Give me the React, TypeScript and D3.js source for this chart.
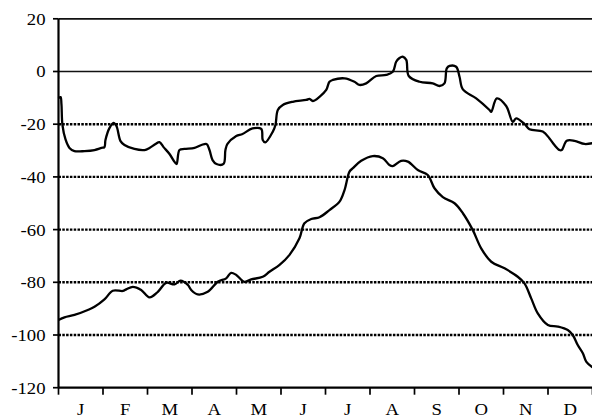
import React from "react";
import * as d3 from "d3";

const months = ["J", "F", "M", "A", "M", "J", "J", "A", "S", "O", "N", "D"];
const yTicks = [20, 0, -20, -40, -60, -80, -100, -120];
const dottedLevels = [-20, -40, -60, -80, -100];
const solidLevels = [20, 0];

const upperDays = [0, 1.4, 2, 2.7, 4.8, 7.5, 10.9, 17.8, 24.6, 29.4, 31.4, 32.1, 34.9, 37.6, 39.6, 42.4, 45.1, 51.9, 58.8, 62.2, 66.3, 69, 71.8, 75.9, 79.3, 80.7, 82.7, 86.1, 93, 97.7, 101.2, 103.2, 105.3, 108, 112.8, 114.1, 115.5, 121.5, 125.8, 132.6, 138.6, 139.6, 141.3, 146.5, 148.3, 149.9, 153.3, 160.1, 169.3, 171.6, 173.8, 178.4, 183, 185.2, 187.5, 195.5, 202.3, 205.7, 210.3, 217.2, 224, 228.5, 230.8, 233.1, 235.3, 237.7, 239.4, 246.8, 255.8, 260.4, 263.8, 265.4, 267.3, 271.8, 274.1, 276.4, 285.5, 294.6, 295.8, 299.6, 306, 310.5, 312.8, 318.5, 321.9, 331, 335.6, 339, 342.4, 344, 347.4, 352.7, 359.5, 365];
const upperValues = [-10.1, -9.7, -12.3, -20.3, -25.8, -29.0, -30.2, -30.2, -29.8, -29.0, -28.7, -26, -21.4, -19.5, -20.7, -26.4, -27.9, -29.4, -29.8, -29, -27.5, -26.8, -28.7, -31.3, -34.3, -35.1, -29.8, -29.4, -29, -27.9, -27.5, -29.8, -33.6, -35.1, -35.1, -29.8, -27.5, -24.5, -23.7, -21.6, -21.8, -26, -26.9, -22.8, -20.3, -14.6, -12.7, -11.5, -10.8, -10.4, -11.2, -9.6, -7.0, -3.9, -3.2, -2.6, -3.9, -5.1, -4.5, -1.7, -1.3, -0.1, 3.7, 5.1, 5.6, 4.4, -1.7, -3.9, -4.5, -5.5, -4.5, 1.2, 2.1, 1.8, -2, -6.8, -10.2, -14.6, -15.3, -10.2, -13.1, -19.1, -17.8, -19.9, -21.9, -22.8, -25.4, -27.9, -29.8, -29.8, -26.3, -26.3, -27.5, -27.2];

const lowerDays = [0, 4.1, 10.9, 20, 24.6, 31.4, 37.1, 44, 46.3, 50.8, 56.5, 62.2, 67.9, 73.6, 79.3, 83.4, 88.4, 90.7, 95.2, 102, 108.9, 114.6, 118, 121.5, 127.1, 131.7, 139.6, 144.2, 151.1, 157.9, 164.7, 168.1, 172.7, 178.4, 185.2, 192.1, 195.5, 198.9, 201.2, 206.9, 214.8, 221.7, 226.2, 228.5, 234.2, 238.8, 245.6, 252.4, 257, 262.7, 270.7, 276.4, 283.2, 288.9, 295.8, 304.9, 313.9, 318.5, 323.1, 327.6, 334.5, 341.3, 348.1, 351.5, 354.9, 358.4, 360.7, 365];
const lowerValues = [-94.3, -93.3, -92.4, -90.5, -89.3, -86.5, -83.2, -83.3, -82.7, -81.7, -82.9, -85.7, -83.6, -80.2, -80.8, -79.4, -81, -82.9, -84.6, -83.6, -79.8, -78.5, -76.4, -77.2, -79.8, -78.9, -77.9, -76, -73.4, -69.6, -63.3, -57.6, -56, -55.3, -52.6, -49.4, -45, -38, -36.7, -33.9, -32.1, -32.9, -35.5, -35.9, -33.9, -34.2, -37.4, -39.3, -44.3, -47.7, -50, -53.8, -60.2, -67.1, -72.2, -74.7, -77.9, -80.4, -86.1, -91.8, -96.2, -96.8, -98.1, -100, -103.8, -106.9, -110.1, -112.3];

const W = 592;
const H = 419;
const left = 58.5;
const monthW = 44.5;
const right = left + monthW * 12;
const top = 18.8;
const bottom = 387.7;
const FONT = "Liberation Serif";
const FS = 17.5;
const SX = 1.07;

export default function App() {
  const x = d3.scaleLinear().domain([0, 365]).range([left, right]);
  const y = d3.scaleLinear().domain([-120, 20]).range([bottom, top]);
  const monthScale = d3.scaleLinear().domain([0, 12]).range([left, right]);

  const line = d3
    .line<[number, number]>()
    .x((d) => x(d[0]))
    .y((d) => y(d[1]))
    .curve(d3.curveCatmullRom.alpha(0.5));

  const upper = upperDays.map((d, i) => [d, upperValues[i]] as [number, number]);
  const lower = lowerDays.map((d, i) => [d, lowerValues[i]] as [number, number]);

  return (
    <svg
      width={W}
      height={H}
      style={{ position: "absolute", left: 0, top: 0, background: "#fff" }}
    >
      <rect x={0} y={0} width={W} height={H} fill="#fff" />
      {dottedLevels.map((v) => (
        <line
          key={"g" + v}
          x1={left}
          x2={W}
          y1={y(v)}
          y2={y(v)}
          stroke="#000"
          strokeWidth={2.4}
          strokeDasharray="2.5,1.3"
        />
      ))}
      {solidLevels.map((v) => (
        <line
          key={"s" + v}
          x1={left}
          x2={W}
          y1={y(v)}
          y2={y(v)}
          stroke="#111"
          strokeWidth={1.7}
        />
      ))}
      <line x1={left} x2={left} y1={top} y2={bottom} stroke="#000" strokeWidth={2.2} />
      {yTicks.map((v) => (
        <g key={"yt" + v}>
          <line x1={left - 5.5} x2={left} y1={y(v)} y2={y(v)} stroke="#000" strokeWidth={1.7} />
          <text
            transform={`translate(45.5,${y(v)}) scale(${SX},1)`}
            dy="0.34em"
            textAnchor="end"
            fontFamily={FONT}
            fontSize={FS}
            fill="#000"
          >
            {v}
          </text>
        </g>
      ))}
      <line x1={left} x2={W} y1={bottom} y2={bottom} stroke="#000" strokeWidth={2.2} />
      {d3.range(0, 13).map((i) => (
        <line
          key={"xt" + i}
          x1={monthScale(i)}
          x2={monthScale(i)}
          y1={bottom}
          y2={bottom + 7}
          stroke="#000"
          strokeWidth={1.7}
        />
      ))}
      {months.map((m, i) => (
        <text
          key={"m" + i}
          transform={`translate(${monthScale(i + 0.5)},415) scale(${SX},1)`}
          textAnchor="middle"
          fontFamily={FONT}
          fontSize={FS}
          fill="#000"
        >
          {m}
        </text>
      ))}
      <path d={line(upper) || ""} fill="none" stroke="#000" strokeWidth={2.3} />
      <path d={line(lower) || ""} fill="none" stroke="#000" strokeWidth={2.3} />
    </svg>
  );
}
